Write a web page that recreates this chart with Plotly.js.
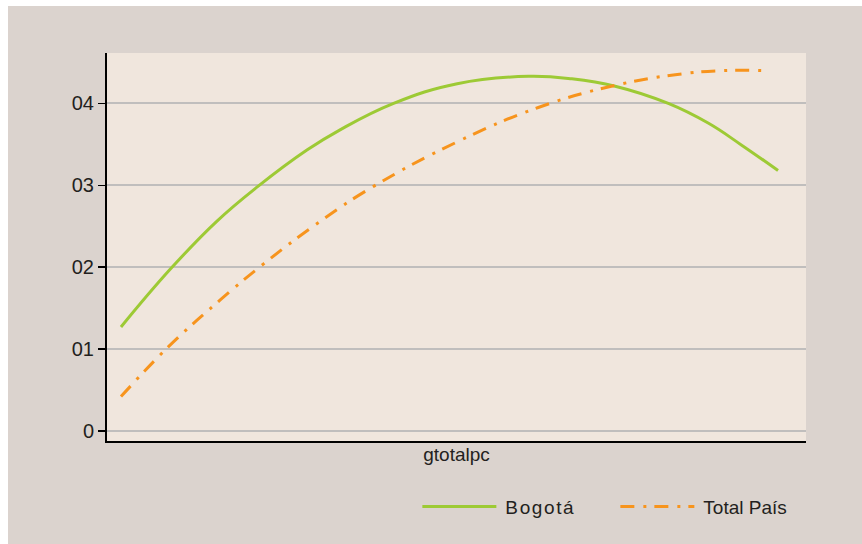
<!DOCTYPE html>
<html>
<head>
<meta charset="utf-8">
<script src="https://cdn.plot.ly/plotly-3.0.1.min.js"></script>
<style>
  html, body { margin: 0; padding: 0; background: #ffffff; }
  #chart { position: absolute; left: 8px; top: 6px; width: 854px; height: 538px; }
  #chart .legend .traces .legendtext { transform: translate(4px, 0px); }
  #chart .legend .traces:first-child .legendtext { letter-spacing: 1.6px; }
</style>
</head>
<body>
<div id="chart"></div>
<script>
// Bogotá curve
const bogotaX = [2.0, 9.1, 15.7, 21.5, 28.6, 33.4, 41.0, 50.1, 60.3, 66.5, 72.7, 80.3, 86.0, 90.8, 96.0];
const bogotaY = [12.7, 19.8, 25.6, 29.8, 34.3, 36.8, 40.0, 42.4, 43.3, 43.0, 42.1, 40.0, 37.6, 34.9, 31.8];
// Total País curve
const paisX = [2.0, 8.8, 16.2, 22.4, 30.5, 38.2, 50.1, 61.7, 72.7, 81.3, 87.9, 94.4];
const paisY = [4.2, 10.3, 16.0, 20.4, 25.6, 29.9, 35.3, 39.5, 42.2, 43.5, 44.0, 44.0];
// Y ticks
const yTickVals = [0, 10, 20, 30, 40];
const yTickText = ["0", "01", "02", "03", "04"];
const seriesNames = ["Bogotá", "Total País"];
const xTitle = "gtotalpc";

const traces = [
  {
    x: bogotaX, y: bogotaY, name: seriesNames[0], type: 'scatter', mode: 'lines',
    line: { color: '#9dca35', width: 3, shape: 'spline', smoothing: 1.2 }
  },
  {
    x: paisX, y: paisY, name: seriesNames[1], type: 'scatter', mode: 'lines',
    line: { color: '#f7941d', width: 3, shape: 'spline', smoothing: 1.2, dash: '14px,9px,3px,8px' }
  }
];

const layout = {
  width: 854, height: 538,
  paper_bgcolor: '#dbd3ce',
  plot_bgcolor: '#f0e6dd',
  margin: { l: 99, r: 56, t: 47, b: 103 },
  font: { family: 'Liberation Sans, Arial, sans-serif', color: '#231f20', size: 19 },
  xaxis: {
    range: [0, 100],
    showgrid: false, zeroline: false,
    showticklabels: false, ticks: '',
    showline: true, linecolor: '#000000', linewidth: 2,
    title: { text: xTitle, font: { size: 19 }, standoff: 6 }
  },
  yaxis: {
    range: [-1.22, 46.15],
    tickvals: yTickVals, ticktext: yTickText,
    ticks: 'outside', ticklen: 7, tickwidth: 1.5, tickcolor: '#000000',
    showgrid: true, gridcolor: '#c0bebd', gridwidth: 2,
    zeroline: false,
    showline: true, linecolor: '#000000', linewidth: 2,
    tickfont: { size: 20 }
  },
  showlegend: true,
  legend: {
    orientation: 'h',
    x: 0.444, xanchor: 'left',
    y: -0.169, yanchor: 'middle',
    bgcolor: 'rgba(0,0,0,0)',
    itemwidth: 74,
    entrywidth: 109, entrywidthmode: 'pixels',
    font: { size: 19 }
  }
};

Plotly.newPlot('chart', traces, layout, { displayModeBar: false, staticPlot: true });
</script>
</body>
</html>
